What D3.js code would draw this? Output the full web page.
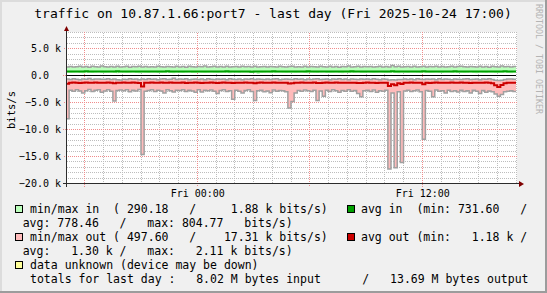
<!DOCTYPE html>
<html>
<head>
<meta charset="utf-8">
<script src="https://cdn.jsdelivr.net/npm/d3@7"></script>
<style>
  html, body { margin: 0; padding: 0; background: #f0f0f0; }
  svg { display: block; font-family: 'DejaVu Sans Mono', monospace; }
  text { white-space: pre; }
</style>
</head>
<body>
<svg id="chart" width="547" height="293"></svg>
<script>
const title = 'traffic on 10.87.1.66:port7 - last day (Fri 2025-10-24 17:00)';
const watermark = 'RRDTOOL / TOBI OETIKER';
const yLabel = 'bits/s';
const startTime = new Date(2025, 9, 23, 17, 0);
const endTime = new Date(2025, 9, 24, 17, 0);
const stepMinutes = 10;

// values in k bits/s, one every 10 minutes from Thu 17:00 (18 per row = 3 hours)
const maxIn = [
  1.62, 1.70, 1.58, 1.66, 1.74, 1.60, 1.68, 1.55, 1.72, 1.64, 1.60, 1.78, 1.66, 1.58, 1.70, 1.62, 1.75, 1.60,
  1.66, 1.72, 1.56, 1.68, 1.64, 1.74, 1.60, 1.70, 1.58, 1.66, 1.62, 1.76, 1.64, 1.58, 1.70, 1.66, 1.60, 1.72,
  1.62, 1.68, 1.56, 1.74, 1.66, 1.60, 1.70, 1.64, 1.78, 1.58, 1.66, 1.72, 1.60, 1.68, 1.62, 1.74, 1.58, 1.66,
  1.70, 1.60, 1.76, 1.64, 1.68, 1.58, 1.72, 1.62, 1.66, 1.70, 1.60, 1.70, 1.64, 1.58, 1.74, 1.66, 1.60, 1.68,
  1.72, 1.58, 1.66, 1.62, 1.76, 1.60, 1.70, 1.64, 1.58, 1.72, 1.66, 1.62, 1.74, 1.60, 1.68, 1.56, 1.70, 1.64,
  1.78, 1.62, 1.66, 1.72, 1.60, 1.68, 1.64, 1.70, 1.58, 1.66, 1.74, 1.62, 1.68, 1.60, 1.88, 1.66, 1.72, 1.58,
  1.64, 1.70, 1.62, 1.76, 1.58, 1.66, 1.72, 1.60, 1.68, 1.64, 1.74, 1.58, 1.70, 1.62, 1.66, 1.76, 1.60, 1.68,
  1.72, 1.64, 1.58, 1.70, 1.66, 1.62, 1.74, 1.60, 1.68, 1.56, 1.72, 1.66, 1.62, 1.78, 1.64, 1.70, 1.60, 1.68
];
const minIn = [
  0.52, 0.48, 0.55, 0.60, 0.50, 0.46, 0.58, 0.53, 0.49, 0.56, 0.61, 0.51, 0.47, 0.54, 0.59, 0.50, 0.45, 0.57,
  0.52, 0.48, 0.55, 0.62, 0.50, 0.46, 0.58, 0.53, 0.49, 0.56, 0.60, 0.51, 0.47, 0.54, 0.59, 0.50, 0.45, 0.57,
  0.53, 0.49, 0.56, 0.61, 0.51, 0.47, 0.57, 0.52, 0.50, 0.55, 0.60, 0.52, 0.48, 0.55, 0.58, 0.51, 0.46, 0.56,
  0.54, 0.50, 0.57, 0.60, 0.52, 0.48, 0.56, 0.29, 0.51, 0.54, 0.59, 0.53, 0.49, 0.56, 0.57, 0.52, 0.47, 0.55,
  0.52, 0.48, 0.55, 0.60, 0.50, 0.46, 0.58, 0.53, 0.49, 0.56, 0.61, 0.51, 0.47, 0.54, 0.59, 0.50, 0.45, 0.57,
  0.53, 0.49, 0.56, 0.61, 0.51, 0.47, 0.57, 0.52, 0.50, 0.55, 0.60, 0.52, 0.48, 0.55, 0.58, 0.51, 0.46, 0.56,
  0.54, 0.50, 0.57, 0.60, 0.52, 0.48, 0.56, 0.53, 0.51, 0.54, 0.59, 0.53, 0.49, 0.56, 0.57, 0.52, 0.47, 0.55,
  0.52, 0.48, 0.55, 0.62, 0.50, 0.46, 0.58, 0.53, 0.49, 0.56, 0.60, 0.51, 0.47, 0.54, 0.59, 0.50, 0.45, 0.57
];
const avgIn = [
  0.78, 0.77, 0.79, 0.78, 0.76, 0.78, 0.80, 0.77, 0.78, 0.79, 0.77, 0.78, 0.79, 0.78, 0.77, 0.78, 0.80, 0.78,
  0.76, 0.78, 0.79, 0.77, 0.78, 0.78, 0.77, 0.79, 0.78, 0.78, 0.76, 0.79, 0.78, 0.77, 0.80, 0.78, 0.78, 0.77,
  0.78, 0.78, 0.79, 0.77, 0.78, 0.76, 0.78, 0.79, 0.78, 0.77, 0.79, 0.78, 0.78, 0.77, 0.78, 0.80, 0.78, 0.77,
  0.79, 0.78, 0.76, 0.78, 0.79, 0.73, 0.77, 0.78, 0.79, 0.78, 0.77, 0.78, 0.80, 0.78, 0.77, 0.79, 0.78, 0.76,
  0.78, 0.79, 0.77, 0.78, 0.78, 0.80, 0.77, 0.78, 0.79, 0.76, 0.78, 0.78, 0.79, 0.77, 0.78, 0.78, 0.76, 0.79,
  0.78, 0.80, 0.77, 0.78, 0.79, 0.78, 0.77, 0.78, 0.76, 0.78, 0.79, 0.77, 0.78, 0.78, 0.80, 0.78, 0.77, 0.79,
  0.78, 0.77, 0.79, 0.78, 0.76, 0.78, 0.80, 0.77, 0.78, 0.79, 0.77, 0.78, 0.79, 0.78, 0.77, 0.78, 0.80, 0.78,
  0.76, 0.78, 0.79, 0.77, 0.78, 0.78, 0.77, 0.79, 0.78, 0.78, 0.76, 0.79, 0.78, 0.77, 0.80, 0.78, 0.78, 0.77
];
// outgoing traffic is drawn below zero
const minOut = [
  -0.62, -0.70, -0.58, -0.66, -0.74, -0.60, -0.68, -0.55, -0.72, -0.64, -0.60, -0.69, -0.66, -0.58, -0.70, -0.62, -0.75, -0.80,
  -0.66, -0.72, -0.56, -0.68, -0.64, -0.74, -0.60, -0.70, -0.58, -0.66, -0.62, -0.76, -0.64, -0.58, -0.70, -0.66, -0.498, -0.72,
  -0.62, -0.68, -0.56, -0.74, -0.66, -0.60, -0.70, -0.64, -0.78, -0.58, -0.66, -0.72, -0.60, -0.68, -0.62, -0.74, -0.58, -0.66,
  -0.70, -0.60, -0.76, -0.64, -0.68, -0.58, -0.72, -0.62, -0.66, -0.70, -0.60, -0.70, -0.64, -0.58, -0.74, -0.66, -0.60, -0.68,
  -0.72, -0.58, -0.66, -0.62, -0.76, -0.60, -0.70, -0.64, -0.58, -0.72, -0.66, -0.62, -0.74, -0.60, -0.68, -0.56, -0.70, -0.64,
  -0.76, -0.62, -0.66, -0.72, -0.60, -0.68, -0.64, -0.70, -0.58, -0.66, -0.74, -0.62, -0.68, -0.82, -0.74, -0.80, -0.72, -0.70,
  -0.64, -0.70, -0.62, -0.76, -0.58, -0.66, -0.72, -0.60, -0.68, -0.64, -0.74, -0.58, -0.70, -0.62, -0.66, -0.76, -0.60, -0.68,
  -0.72, -0.64, -0.58, -0.70, -0.66, -0.62, -0.74, -0.60, -0.68, -0.56, -0.72, -0.84, -0.88, -0.86, -0.70, -0.64, -0.60, -0.68
];
const maxOut = [
  -8.00, -2.70, -2.90, -2.60, -2.85, -3.20, -2.80, -2.55, -2.95, -2.70, -2.60, -3.10, -2.85, -2.60, -2.90, -4.70, -2.75, -2.65,
  -2.80, -2.60, -3.00, -2.70, -2.85, -2.55, -14.60, -2.90, -2.75, -2.60, -2.95, -2.70, -2.85, -3.20, -2.60, -2.80, -3.05, -2.70,
  -2.75, -2.60, -2.95, -2.70, -2.85, -3.10, -2.60, -3.05, -2.70, -2.80, -2.65, -2.90, -3.30, -2.75, -2.60, -2.95, -2.80, -4.40,
  -2.70, -2.90, -3.20, -2.75, -2.60, -2.95, -4.60, -2.80, -2.70, -3.00, -2.85, -3.15, -2.65, -2.90, -2.75, -2.80, -3.00, -6.00,
  -4.80, -3.20, -2.75, -2.90, -2.65, -2.80, -2.95, -2.70, -4.60, -2.85, -3.80, -2.70, -2.95, -2.60, -2.80, -3.10, -2.75, -2.90,
  -2.60, -2.90, -2.75, -3.30, -3.90, -2.80, -2.70, -2.95, -2.65, -3.10, -2.80, -2.90, -2.70, -17.31, -3.20, -17.10, -3.00, -16.10,
  -2.85, -2.70, -2.95, -2.80, -2.65, -3.00, -11.80, -2.75, -2.90, -3.90, -2.65, -2.90, -2.80, -3.20, -2.70, -2.95, -2.80, -3.05,
  -2.70, -2.95, -2.80, -3.20, -2.70, -2.90, -3.30, -2.75, -3.10, -2.85, -3.00, -3.40, -3.80, -3.50, -3.00, -2.90, -2.80, -2.95
];
const avgOut = [
  -1.50, -1.30, -1.28, -1.34, -1.36, -1.30, -1.26, -1.32, -1.30, -1.28, -1.34, -1.30, -1.32, -1.28, -1.30, -1.40, -1.34, -1.30,
  -1.28, -1.32, -1.30, -1.26, -1.34, -1.36, -2.00, -1.34, -1.30, -1.28, -1.32, -1.30, -1.26, -1.34, -1.30, -1.28, -1.34, -1.30,
  -1.32, -1.27, -1.36, -1.30, -1.34, -1.28, -1.30, -1.38, -1.30, -1.34, -1.28, -1.32, -1.36, -1.30, -1.26, -1.34, -1.30, -1.38,
  -1.30, -1.32, -1.34, -1.28, -1.30, -1.32, -1.40, -1.30, -1.26, -1.34, -1.30, -1.32, -1.28, -1.30, -1.34, -1.30, -1.32, -1.46,
  -1.40, -1.32, -1.30, -1.28, -1.34, -1.30, -1.32, -1.28, -1.38, -1.36, -1.34, -1.28, -1.32, -1.30, -1.26, -1.34, -1.30, -1.32,
  -1.34, -1.30, -1.32, -1.36, -1.38, -1.30, -1.28, -1.34, -1.30, -1.36, -1.32, -1.30, -1.34, -1.92, -1.60, -1.80, -1.40, -1.56,
  -1.32, -1.30, -1.28, -1.34, -1.30, -1.32, -1.60, -1.30, -1.36, -1.34, -1.28, -1.32, -1.30, -1.34, -1.30, -1.28, -1.32, -1.30,
  -1.28, -1.34, -1.30, -1.36, -1.30, -1.32, -1.34, -1.30, -1.28, -1.34, -1.40, -1.80, -2.11, -1.72, -1.40, -1.34, -1.32, -1.30
];

const yTicks = [5000, 0, -5000, -10000, -15000, -20000];

const legendLines = [
  ' min/max in  ( 290.18   /     1.88 k bits/s)',
  'avg: 778.46   /   max: 804.77   bits/s)',
  ' min/max out ( 497.60   /    17.31 k bits/s)',
  'avg:   1.30 k /   max:   2.11 k bits/s)',
  ' data unknown (device may be down)',
  ' totals for last day :   8.02 M bytes input      /   13.69 M bytes output'
];
const legendRight = ['avg in  (min: 731.60   /', '', 'avg out (min:   1.18 k /', '', '', ''];
const legendSwatch = ['#bbffbb', null, '#ffbbbb', null, '#ffff99', null];
const legendSwatchRight = ['#00a000', null, '#cc0000', null, null, null];

const W = 547, H = 293;
const svg = d3.select('#chart');

const x = d3.scaleTime().domain([startTime, endTime]).range([66, 516]);
const y = d3.scaleLinear().domain([-20000, 8000]).range([183.5, 32.5]);
const px = v => Math.floor(v);

// one row per step, plus a closing row so the last step reaches the end
const rows = maxIn.map((_, i) => ({
  t: d3.timeMinute.offset(startTime, i * stepMinutes),
  maxIn: maxIn[i] * 1000, minIn: minIn[i] * 1000, avgIn: avgIn[i] * 1000,
  maxOut: maxOut[i] * 1000, minOut: minOut[i] * 1000, avgOut: avgOut[i] * 1000
}));
rows.push(Object.assign({}, rows[rows.length - 1], { t: endTime }));

// dotted grid patterns (checkerboard so both directions get 1-on 1-off dots)
const defs = svg.append('defs');
[['dotMinor', '#bdbdbd'], ['dotMajor', '#f08c8c']].forEach(([id, c]) => {
  const p = defs.append('pattern').attr('id', id)
    .attr('patternUnits', 'userSpaceOnUse').attr('width', 2).attr('height', 2);
  p.append('rect').attr('x', 0).attr('y', 0).attr('width', 1).attr('height', 1).attr('fill', c);
  p.append('rect').attr('x', 1).attr('y', 1).attr('width', 1).attr('height', 1).attr('fill', c);
});

// background and shading border
svg.append('rect').attr('width', W).attr('height', H).attr('fill', '#f0f0f0');
svg.append('path').attr('d', `M1,${H}V1H${W}`)
  .attr('fill', 'none').attr('stroke', '#dcdcdc').attr('stroke-width', 2);
svg.append('path').attr('d', `M0,${H - 1}H${W - 1}V0`)
  .attr('fill', 'none').attr('stroke', '#9c9c9c').attr('stroke-width', 2);

// canvas
svg.append('rect')
  .attr('x', 66).attr('y', 32)
  .attr('width', 451).attr('height', 152)
  .attr('fill', '#ffffff');

// grid
const grid = svg.append('g').attr('shape-rendering', 'crispEdges');
const yMinor = d3.range(-20000, 8001, 1000).filter(v => v % 5000 !== 0);
const yMajor = d3.range(-20000, 8001, 1000).filter(v => v % 5000 === 0);
const hours = d3.timeHour.every(1).range(startTime, d3.timeMinute.offset(endTime, 1));
const hMinor = hours.filter(d => d.getHours() % 6 !== 0);
const hMajor = hours.filter(d => d.getHours() % 6 === 0);

grid.append('g').selectAll('rect').data(yMinor).join('rect')
  .attr('x', 67).attr('width', 450)
  .attr('y', d => px(y(d))).attr('height', 1)
  .attr('fill', 'url(#dotMinor)');
grid.append('g').selectAll('rect').data(hMinor).join('rect')
  .attr('x', d => px(x(d))).attr('width', 1)
  .attr('y', 32).attr('height', 152)
  .attr('fill', 'url(#dotMinor)');
grid.append('g').selectAll('rect').data(yMajor).join('rect')
  .attr('x', 63).attr('width', 454)
  .attr('y', d => px(y(d))).attr('height', 1)
  .attr('fill', 'url(#dotMajor)');
grid.append('g').selectAll('rect').data(hMajor).join('rect')
  .attr('x', d => px(x(d))).attr('width', 1)
  .attr('y', 32).attr('height', 155)
  .attr('fill', 'url(#dotMajor)');

// data
const plot = svg.append('g');
const band = (lo, hi) => d3.area().curve(d3.curveStepAfter)
  .x(d => x(d.t)).y0(d => y(d[lo])).y1(d => y(d[hi]));
const step = key => d3.line().curve(d3.curveStepAfter)
  .x(d => x(d.t)).y(d => y(d[key]));

plot.append('path').datum(rows).attr('d', band('minIn', 'maxIn')).attr('fill', '#bbffbb');
plot.append('path').datum(rows).attr('d', band('minOut', 'maxOut')).attr('fill', '#ffbbbb');
['maxIn', 'minOut', 'maxOut'].forEach(k => {
  plot.append('path').datum(rows).attr('d', step(k))
    .attr('fill', 'none').attr('stroke', '#a0a0a0').attr('stroke-width', 1.5);
});
plot.append('path').datum(rows).attr('d', step('avgIn'))
  .attr('fill', 'none').attr('stroke', '#00a000').attr('stroke-width', 2);
plot.append('path').datum(rows).attr('d', step('avgOut'))
  .attr('fill', 'none').attr('stroke', '#cc0000').attr('stroke-width', 2);

// zero rule
svg.append('line')
  .attr('x1', 67).attr('x2', 516)
  .attr('y1', px(y(0)) + 0.5).attr('y2', px(y(0)) + 0.5)
  .attr('stroke', '#000').attr('stroke-width', 1);

// axes with arrows
svg.append('line').attr('x1', 63).attr('x2', 520)
  .attr('y1', px(y(-20000)) + 0.5).attr('y2', px(y(-20000)) + 0.5)
  .attr('stroke', '#2c2c2c');
svg.append('line').attr('x1', 66.5).attr('x2', 66.5)
  .attr('y1', 187).attr('y2', 30)
  .attr('stroke', '#2c2c2c');
svg.append('path').attr('d', 'M64,31L69,31L66.5,26Z').attr('fill', '#7f0000');
svg.append('path').attr('d', 'M519,181L519,187L524,184Z').attr('fill', '#7f0000');

// y tick labels
svg.append('g').selectAll('text').data(yTicks).join('text')
  .attr('x', 61).attr('y', d => y(d) + 3.5)
  .attr('text-anchor', 'end')
  .attr('font-size', 10)
  .text(d => d === 0 ? '0.0  ' : d3.format('.1f')(d / 1000) + ' k');

// x tick labels
svg.append('g').selectAll('text')
  .data(hours.filter(d => d.getHours() % 12 === 0))
  .join('text')
  .attr('x', d => x(d) + 0.5).attr('y', 197)
  .attr('text-anchor', 'middle')
  .attr('font-size', 10)
  .text(d3.timeFormat('%a %H:%M'));

svg.append('text')
  .attr('transform', 'translate(15,110) rotate(-90)')
  .attr('text-anchor', 'middle')
  .attr('font-size', 10.5)
  .text(yLabel);

svg.append('text')
  .attr('x', 273).attr('y', 18)
  .attr('text-anchor', 'middle')
  .attr('font-size', 13)
  .text(title);

svg.append('text')
  .attr('transform', 'translate(535.5,4) rotate(90)')
  .attr('font-size', 8.3)
  .attr('fill', '#b4b4b4')
  .text(watermark);

// legend
const legend = svg.append('g').attr('font-size', 11.5);
legendLines.forEach((line, i) => {
  const base = 213 + i * 14;
  const indented = line.startsWith(' ');
  legend.append('text')
    .attr('x', indented ? 23.1 : 22.7).attr('y', base)
    .text(line);
  if (legendSwatch[i]) {
    legend.append('rect')
      .attr('x', 15.5).attr('y', base - 7.5).attr('width', 7).attr('height', 7)
      .attr('fill', legendSwatch[i]).attr('stroke', '#000');
  }
  if (legendSwatchRight[i]) {
    legend.append('rect')
      .attr('x', 347.5).attr('y', base - 7.5).attr('width', 7).attr('height', 7)
      .attr('fill', legendSwatchRight[i]).attr('stroke', '#000');
    legend.append('text').attr('x', 361).attr('y', base).text(legendRight[i]);
  }
});
</script>
</body>
</html>
